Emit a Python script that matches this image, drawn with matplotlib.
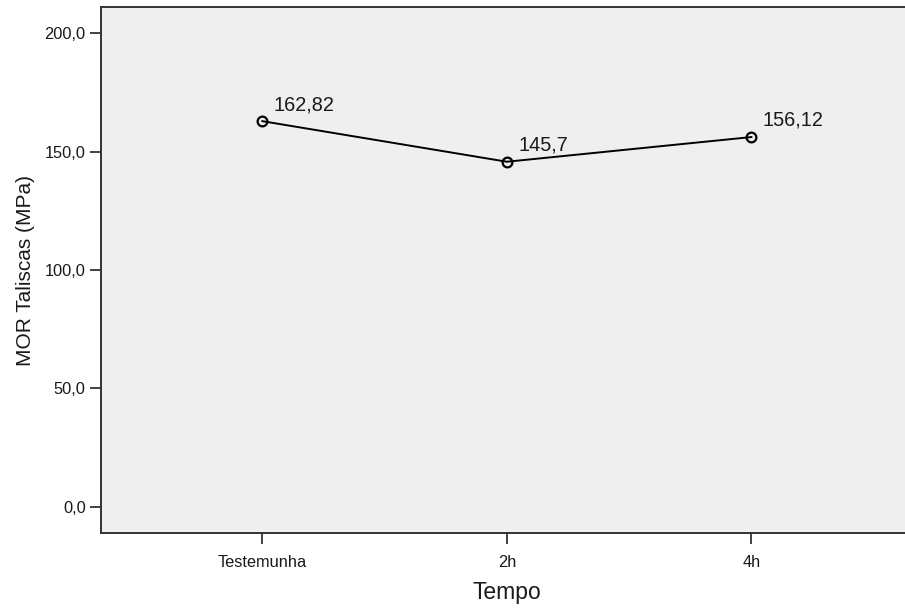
import matplotlib
matplotlib.use("Agg")
import matplotlib.pyplot as plt

# data
categories = ["Testemunha", "2h", "4h"]
mor_values = [162.82, 145.7, 156.12]
value_labels = ["162,82", "145,7", "156,12"]
y_ticks = [0, 50, 100, 150, 200]
y_tick_labels = ["0,0", "50,0", "100,0", "150,0", "200,0"]

plt.rcParams["font.family"] = ["Liberation Sans", "DejaVu Sans"]

fig = plt.figure(figsize=(9.05, 6.10), dpi=100)
ax = fig.add_axes([0.1116, 0.1262, 0.897, 0.8623])
ax.set_facecolor("#efefef")

x = list(range(len(categories)))
ax.plot(x, mor_values, color="black", linewidth=1.4, zorder=3)
ax.plot(x, mor_values, linestyle="none", marker="o", markersize=7,
        markerfacecolor="none", markeredgecolor="black",
        markeredgewidth=1.6, zorder=4)

for xi, val, lab in zip(x, mor_values, value_labels):
    ax.annotate(lab, (xi, val), xytext=(8, 12), textcoords="offset points",
                ha="left", va="center", fontsize=14.3, color="#1a1a1a")

ax.set_xlim(-0.66, 2.66)
ax.set_ylim(-11, 211)
ax.set_xticks(x)
ax.set_xticklabels(categories, fontsize=11.8)
ax.set_yticks(y_ticks)
ax.set_yticklabels(y_tick_labels, fontsize=11.8)

ax.tick_params(axis="both", length=8, width=1.3, color="#333333",
               labelcolor="#1a1a1a")
ax.tick_params(axis="x", pad=8)
ax.tick_params(axis="y", pad=3)

for side in ["left", "bottom", "top"]:
    ax.spines[side].set_color("#333333")
    ax.spines[side].set_linewidth(1.4)
ax.spines["right"].set_visible(False)

ax.set_xlabel("Tempo", fontsize=16.5, color="#1a1a1a", labelpad=8)
ax.set_ylabel("MOR Taliscas (MPa)", fontsize=15, color="#1a1a1a", labelpad=7)

fig.savefig("out.png", dpi=100)
